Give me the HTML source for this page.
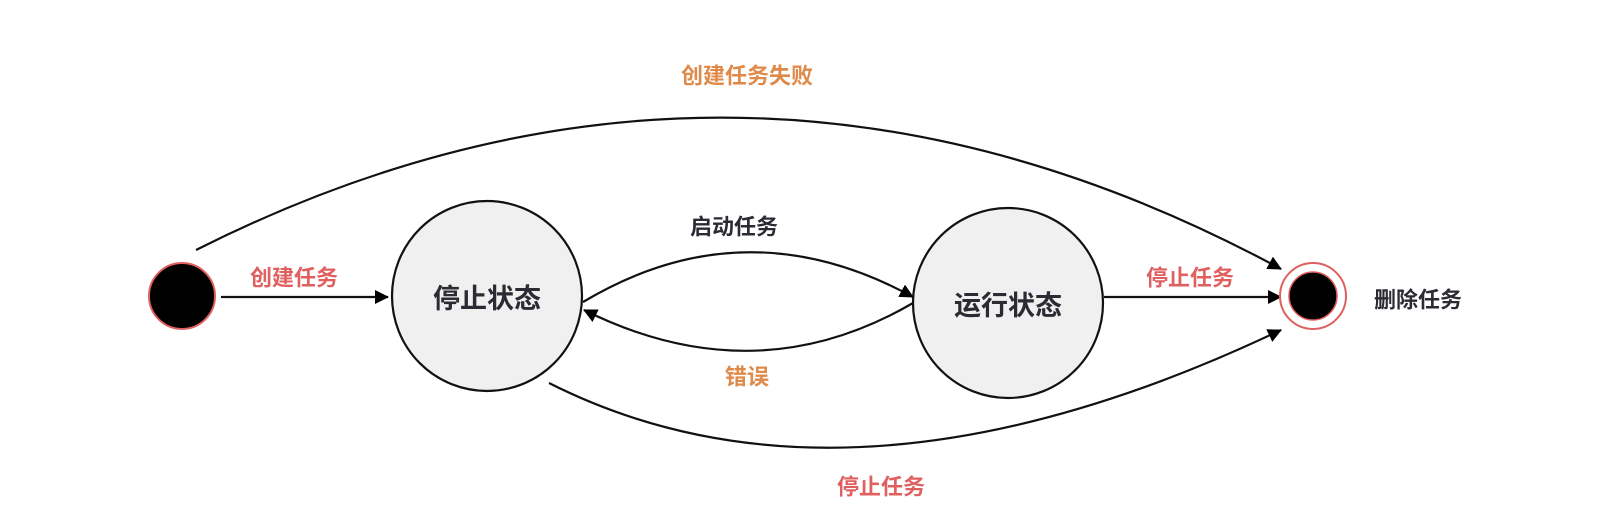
<!DOCTYPE html>
<html><head><meta charset="utf-8"><style>
html,body{margin:0;padding:0;background:#fff;}
svg{display:block;}
text{font-family:"Liberation Sans","Noto Sans CJK SC",sans-serif;font-weight:bold;}
</style></head><body>
<svg width="1618" height="512" viewBox="0 0 1618 512" xmlns="http://www.w3.org/2000/svg">
<defs>
<marker id="a" markerWidth="14" markerHeight="14" refX="13" refY="7" orient="auto" markerUnits="userSpaceOnUse" viewBox="0 0 14 14">
<path d="M0,0 L14,7 L0,14 z" fill="#000"/>
</marker>
</defs>
<g fill="none" stroke="#111" stroke-width="2.2">
<path d="M196,250 Q740,-24 1281,269" marker-end="url(#a)"/>
<line x1="221" y1="297" x2="388" y2="297" marker-end="url(#a)"/>
<path d="M583,302 Q745,205 913,297" marker-end="url(#a)"/>
<path d="M913,303 Q755,395 584,310" marker-end="url(#a)"/>
<line x1="1104" y1="297" x2="1281" y2="297" marker-end="url(#a)"/>
<path d="M549,383 Q850,535 1281,330" marker-end="url(#a)"/>
</g>
<circle cx="182" cy="296" r="33" fill="#000" stroke="#e06060" stroke-width="2"/>
<circle cx="487" cy="296" r="95" fill="#f0f0f0" stroke="#111" stroke-width="2.2"/>
<circle cx="1008" cy="303" r="95" fill="#f0f0f0" stroke="#111" stroke-width="2.2"/>
<circle cx="1313" cy="296" r="33" fill="#fff" stroke="#e06060" stroke-width="2"/>
<circle cx="1313" cy="296" r="24" fill="#000" stroke="#e06060" stroke-width="1.5"/>
<g font-size="22" text-anchor="middle" dominant-baseline="central">
<text x="747" y="76" fill="#e08a4a">创建任务失败</text>
<text x="294" y="278" fill="#e06060">创建任务</text>
<text x="734" y="227" fill="#2b2b33">启动任务</text>
<text x="747" y="377" fill="#e08a4a">错误</text>
<text x="1190" y="278" fill="#e06060">停止任务</text>
<text x="881" y="487" fill="#e06060">停止任务</text>
<text x="1418" y="300" fill="#2b2b33">删除任务</text>
<text x="487" y="299" font-size="27" fill="#2b2b33">停止状态</text>
<text x="1008" y="306" font-size="27" fill="#2b2b33">运行状态</text>
</g>
</svg>
</body></html>
